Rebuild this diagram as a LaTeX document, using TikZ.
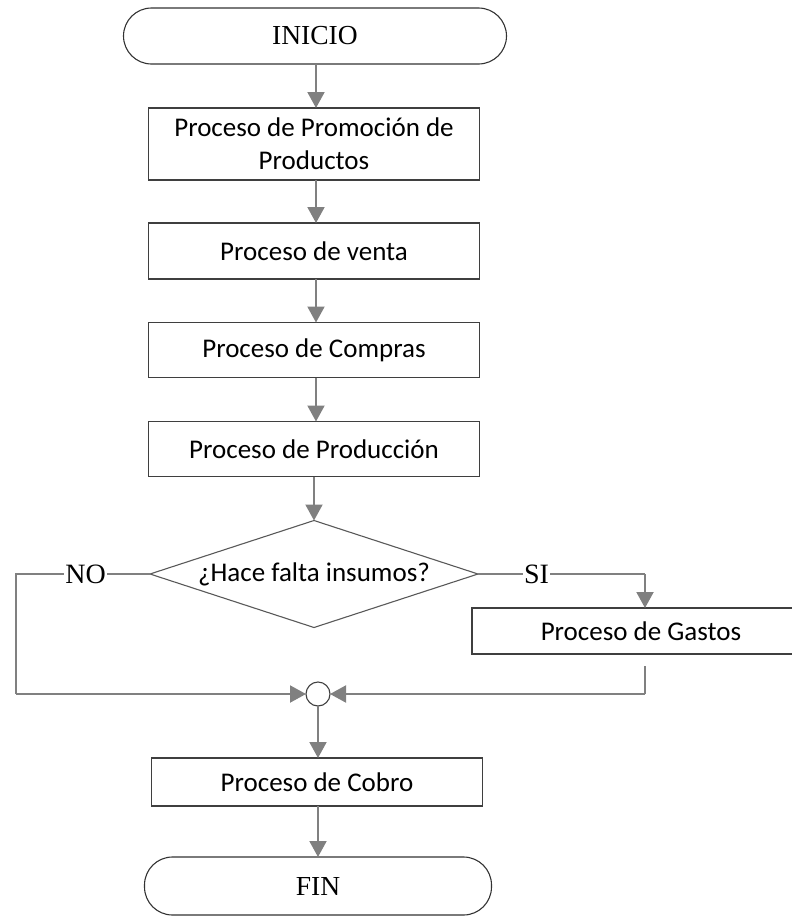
\documentclass[tikz,border=0pt]{standalone}
\usepackage{fontspec}
\setmainfont{Carlito}
\newfontfamily\serifx{Liberation Serif}
\usetikzlibrary{arrows.meta,shapes.geometric}
\definecolor{linegray}{HTML}{808080}
\definecolor{boxgray}{HTML}{3F3F3F}
\begin{document}
\begin{tikzpicture}[x=1pt,y=-1pt,
  every node/.style={inner sep=0pt, outer sep=0pt},
  proc/.style={draw=boxgray, line width=1.3pt, fill=white, rectangle, font=\fontsize{27}{33}\selectfont, align=center},
  term/.style={draw=black!80, line width=1.1pt, fill=white, rectangle, rounded corners=28pt, font=\serifx\fontsize{27.5}{30}\selectfont},
  conn/.style={draw=linegray, line width=2pt},
  arr/.style={conn, -{Triangle[width=17pt,length=16pt]}},
  lbl/.style={fill=white, font=\serifx\fontsize{28}{30}\selectfont, inner sep=1pt}
]
\clip (0,0) rectangle (792,916);
\useasboundingbox (0,0) rectangle (792,916);

\node[term, minimum width=383pt, minimum height=56pt] (inicio) at (315,36) {INICIO};
\node[proc, minimum width=331pt, minimum height=72pt] (p1) at (314,144) {Proceso de Promoción de\\Productos};
\node[proc, minimum width=331pt, minimum height=56pt] (p2) at (314,251) {Proceso de venta};
\node[proc, minimum width=331pt, minimum height=55pt] (p3) at (314,350) {Proceso de Compras};
\node[proc, minimum width=331pt, minimum height=55pt] (p4) at (314,449) {Proceso de Producción};
\node[draw=black!65, line width=1.1pt, diamond, aspect=3.07, minimum width=328pt, minimum height=107pt, font=\fontsize{27}{30}\selectfont] (dec) at (314,574) {\makebox[0pt]{¿Hace falta insumos?}};
\node[proc, minimum width=340pt, minimum height=46pt, anchor=north west] (gastos) at (472,608) {};
\node[font=\fontsize{27}{30}\selectfont] (gastost) at (641,631) {Proceso de Gastos};
\node[draw=black!75, line width=1.1pt, circle, minimum size=24pt, fill=white] (join) at (318,694) {};
\node[proc, minimum width=331pt, minimum height=48pt] (cobro) at (317,782) {Proceso de Cobro};
\node[term, minimum width=347pt, minimum height=58pt] (fin) at (318,886) {FIN};

\coordinate (nl) at (16,574);
\coordinate (nb) at (16,694);
\coordinate (sr) at (645,574);
\coordinate (gs) at (645,666);
\coordinate (gb) at (645,694);

\draw[arr] (inicio.south -| 316,0) -- (p1.north -| 316,0);
\draw[arr] (p1.south -| 316,0) -- (p2.north -| 316,0);
\draw[arr] (p2.south -| 316,0) -- (p3.north -| 316,0);
\draw[arr] (p3.south -| 316,0) -- (p4.north -| 316,0);
\draw[arr] (p4.south -| dec.north) -- (dec.north);
\draw[conn] (dec.west) -- node[lbl, pos=0.48] (no) {NO} (nl) -- (nb);
\draw[arr] (nb) -- (join.west);
\draw[conn] (dec.east) -- node[lbl, pos=0.35] (si) {SI} (sr);
\draw[arr] (sr) -- (gastos.north west -| sr);
\draw[conn] (gs) -- (gb);
\draw[arr] (gb) -- (join.east);
\draw[arr] (join.south) -- (join.south |- cobro.north);
\draw[arr] (cobro.south -| join.south) -- (fin.north -| join.south);
\end{tikzpicture}
\end{document}
